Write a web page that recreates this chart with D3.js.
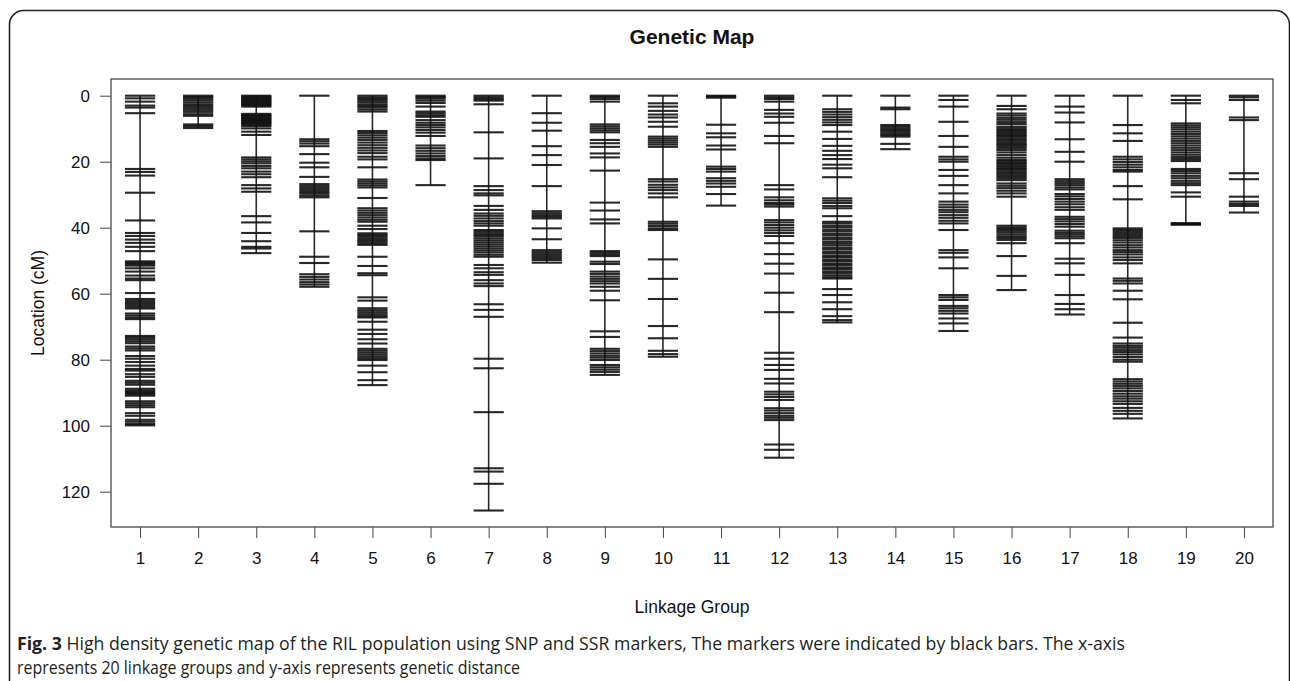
<!DOCTYPE html>
<html>
<head>
<meta charset="utf-8">
<script src="https://cdn.jsdelivr.net/npm/d3@7"></script>
<style>
  body { margin: 0; background: #fff; }
  svg text { font-family: "Liberation Sans", Arial, sans-serif; fill: #111; }
  .caption { font-family: "Open Sans", "Noto Sans", sans-serif; fill: #231f20; }
</style>
</head>
<body>
<div id="chart"></div>
<script>
// linkage group labels and y tick values
var groupLabels = ["1","2","3","4","5","6","7","8","9","10","11","12","13","14","15","16","17","18","19","20"];
var yTicks = [0, 20, 40, 60, 80, 100, 120];

// marker positions (cM) for each linkage group
var lg1 = [0, 0.8, 1.8, 3.0, 3.6, 5.3, 22.2, 23.1, 24.2, 29.4, 37.8, 41.6, 42.5, 43.6, 44.6, 45.8, 47.1,
  50.2, 50.6, 51.0, 51.5, 52.3, 53.3, 54.5, 55.4, 55.9, 59.8, 61.6, 62.2, 62.8, 63.4, 64.0, 64.5, 66.0, 66.6, 67.2, 67.7,
  72.8, 73.3, 73.8, 74.4, 75.0, 76.0, 76.6, 77.2, 78.9, 79.7, 80.7, 81.8, 82.8, 83.3, 84.4, 85.2, 86.4, 87.0, 87.6,
  88.8, 89.3, 89.7, 90.1, 90.5, 90.9, 92.6, 93.2, 93.8, 94.4, 96.2, 97.0, 98.2, 98.8, 99.5, 99.9];
var lg2 = [0, 0.4, 0.9, 1.4, 2.0, 2.6, 3.1, 3.7, 4.3, 4.9, 5.6, 6.1, 8.7, 9.2, 9.8];
var lg3 = [0, 0.3, 0.6, 0.9, 1.2, 1.5, 1.8, 2.1, 2.4, 2.7, 3.0, 3.3, 5.5, 5.8, 6.1, 6.4, 6.7, 7.0, 7.3, 7.6, 7.9,
  8.2, 8.5, 8.8, 9.2, 9.9, 10.9, 11.9, 18.7, 19.3, 19.9, 20.5, 21.3, 22.0, 23.0, 23.8, 24.7, 27.1, 28.1, 29.1,
  36.5, 38.4, 41.6, 44.1, 45.8, 46.3, 47.7];
var lg4 = [0, 13.2, 13.8, 14.5, 15.3, 17.7, 20.3, 21.7, 24.6, 26.8, 27.4, 28.0, 28.6, 29.2, 29.7, 30.3, 30.8,
  41.1, 48.8, 50.7, 54.1, 54.9, 55.7, 56.5, 57.2, 57.9];
var lg5 = [0, 0.5, 1.0, 1.5, 2.0, 2.6, 3.1, 3.6, 4.2, 4.8, 10.7, 11.3, 12.0, 12.7, 13.4, 14.2, 15.0, 15.8, 16.6,
  17.4, 18.5, 19.3, 21.7, 25.4, 26.0, 26.6, 27.2, 27.8, 31.0, 34.1, 34.8, 35.5, 36.2, 36.9, 37.6, 38.2, 39.4, 40.4,
  41.7, 42.2, 42.7, 43.2, 43.7, 44.2, 44.7, 45.2, 48.8, 51.6, 53.8, 54.4, 61.1, 62.1, 64.4, 65.0, 65.6, 66.2, 66.8,
  67.2, 68.5, 70.9, 72.2, 73.8, 75.1, 76.7, 77.3, 77.9, 78.5, 79.1, 79.6, 80.1, 81.8, 83.8, 86.2, 87.7];
var lg6 = [0, 0.4, 0.9, 1.5, 2.2, 3.3, 4.8, 5.3, 5.9, 6.4, 7.4, 8.2, 8.9, 9.6, 10.4, 11.2, 12.2,
  15.1, 15.9, 16.7, 17.5, 18.3, 19.0, 19.5, 27.1];
var lg7 = [0, 0.5, 1.0, 1.5, 2.6, 11.1, 19.0, 27.4, 28.6, 29.6, 30.2, 33.4, 34.6, 35.7, 36.4, 37.2, 38.0, 38.7,
  39.4, 40.7, 41.2, 41.7, 42.2, 42.7, 43.3, 43.9, 44.5, 45.1, 45.7, 46.3, 46.9, 47.5, 48.2, 48.8, 51.3, 52.3,
  53.5, 54.3, 55.9, 56.9, 57.7, 63.2, 64.9, 67.0, 79.7, 82.6, 95.9, 112.9, 113.9, 117.6, 125.7];
var lg8 = [0, 5.3, 8.2, 10.6, 15.3, 18.0, 21.0, 27.4, 35.0, 35.6, 36.2, 36.7, 37.2, 40.2, 43.5,
  46.8, 47.4, 48.0, 48.6, 49.2, 49.8, 50.6];
var lg9 = [0, 0.4, 1.0, 1.8, 8.7, 9.3, 9.9, 10.5, 11.1, 13.4, 14.4, 15.5, 17.5, 18.7, 22.7, 32.4, 34.8, 37.5,
  38.7, 47.1, 47.6, 48.1, 48.6, 50.3, 51.0, 53.3, 54.0, 54.8, 55.5, 56.2, 56.9, 57.9, 59.1, 62.0, 71.4, 73.1,
  76.7, 77.4, 78.1, 78.8, 79.4, 80.1, 81.6, 82.3, 83.0, 83.7, 84.6];
var lg10 = [0, 2.3, 3.3, 4.6, 5.7, 6.6, 7.9, 9.4, 12.4, 13.0, 13.6, 14.2, 14.8, 15.5, 25.3, 26.0, 27.0, 27.8,
  28.6, 29.6, 30.8, 38.2, 38.8, 39.5, 40.2, 40.7, 49.6, 55.5, 61.6, 69.8, 73.5, 77.3, 78.3, 79.1];
var lg11 = [0, 0.3, 0.6, 8.8, 11.4, 12.6, 15.1, 16.3, 21.5, 22.2, 23.0, 25.0, 25.8, 26.6, 27.6, 29.8, 33.3];
var lg12 = [0, 0.5, 1.0, 1.8, 4.3, 5.4, 6.4, 8.2, 12.2, 14.4, 27.1, 28.4, 30.8, 31.7, 32.5, 33.0, 33.6, 37.7,
  38.4, 39.2, 40.0, 40.8, 41.6, 42.5, 44.7, 48.0, 50.9, 53.9, 59.7, 65.6, 77.9, 79.7, 81.6, 83.1, 85.8, 87.2,
  89.7, 90.5, 91.3, 92.2, 94.7, 95.4, 96.2, 97.0, 97.6, 98.3, 105.7, 107.3, 109.7];
var lg13 = [0, 4.1, 4.9, 5.7, 6.5, 7.3, 8.1, 8.9, 10.9, 13.1, 15.2, 16.7, 18.0, 19.2, 20.9, 22.0, 24.7, 31.1,
  31.8, 32.5, 33.4, 34.1, 36.5, 38.2, 38.7, 39.4, 39.9, 40.6, 41.1, 41.8, 42.3, 43.0, 43.5, 44.2, 44.7, 45.3,
  46.0, 46.5, 47.2, 47.7, 48.4, 48.9, 49.6, 50.1, 50.8, 51.3, 52.0, 52.5, 53.2, 53.7, 54.4, 55.0, 55.4,
  58.6, 60.4, 62.6, 64.7, 66.8, 68.0, 68.7];
var lg14 = [0, 3.6, 4.1, 8.9, 9.4, 9.9, 10.4, 10.9, 11.4, 11.9, 12.4, 14.6, 16.2];
var lg15 = [0, 1.3, 3.3, 7.9, 12.2, 15.5, 18.5, 19.3, 20.0, 22.5, 24.3, 27.1, 29.6, 32.1, 33.0, 33.8, 34.6, 35.3,
  36.2, 37.0, 37.9, 38.7, 40.7, 46.8, 47.6, 49.0, 52.3, 60.4, 61.1, 61.9, 63.7, 64.4, 65.2, 66.0, 67.5, 69.0, 71.3];
var lg16 = [0, 3.1, 4.1, 5.4, 6.0, 6.7, 7.3, 8.0, 8.6, 9.4, 9.9, 10.4, 10.8, 11.3, 11.8, 12.2, 12.7, 13.2, 13.6,
  14.1, 14.6, 15.0, 15.5, 16.0, 16.5, 17.2, 18.0, 18.8, 19.5, 19.9, 20.4, 20.8, 21.3, 21.8, 22.2, 22.7, 23.2,
  23.6, 24.1, 24.6, 25.1, 25.6, 26.6, 27.3, 28.0, 28.8, 29.6, 30.6, 39.4, 39.9, 40.4, 40.9, 41.4, 42.0, 42.6,
  43.1, 43.7, 44.7, 48.6, 54.6, 58.9];
var lg17 = [0, 3.3, 5.1, 8.1, 13.2, 17.0, 20.0, 25.3, 25.9, 26.5, 27.1, 27.8, 28.4, 29.8, 30.5, 31.3, 32.1, 32.9,
  33.8, 34.6, 36.7, 37.4, 38.1, 38.9, 39.7, 40.9, 41.5, 42.0, 42.6, 43.2, 44.7, 49.4, 50.8, 54.3, 60.4, 63.1,
  64.7, 66.3];
var lg18 = [0, 8.9, 11.4, 13.7, 18.5, 19.3, 20.1, 20.9, 21.7, 22.5, 23.0, 27.4, 31.4, 40.2, 40.7, 41.3, 41.9,
  42.5, 43.1, 43.8, 44.5, 45.3, 46.0, 46.8, 47.4, 48.1, 49.0, 49.8, 50.8, 55.4, 56.1, 56.9, 59.1, 61.7, 68.8,
  73.3, 75.1, 75.8, 76.4, 77.1, 77.7, 78.4, 79.2, 80.0, 80.6, 85.9, 86.6, 87.3, 88.0, 88.7, 89.5, 90.3, 91.1,
  91.8, 92.6, 93.4, 94.6, 95.5, 96.4, 97.8];
var lg19 = [0, 1.3, 2.3, 8.4, 9.0, 9.6, 10.2, 10.9, 11.6, 12.3, 13.0, 13.7, 14.4, 15.1, 15.8, 16.5, 17.2, 17.9,
  18.6, 19.2, 19.8, 22.2, 22.8, 23.5, 24.3, 25.0, 25.8, 26.5, 27.1, 29.3, 30.6, 38.6, 38.9, 39.1];
var lg20 = [0, 0.5, 1.3, 6.6, 7.4, 23.5, 25.3, 30.6, 32.1, 32.8, 33.4, 35.4];

var groups = [lg1, lg2, lg3, lg4, lg5, lg6, lg7, lg8, lg9, lg10,
              lg11, lg12, lg13, lg14, lg15, lg16, lg17, lg18, lg19, lg20];

function init() {
  var w = 1290, h = 681;

  // plot box edges
  var left = 111, right = 1273, top = 79, bottom = 527;

  var svg = d3.select("#chart").append("svg")
    .attr("width", w)
    .attr("height", h);

  // rounded frame around the figure
  svg.append("rect")
    .attr("x", 9.5).attr("y", 10.5)
    .attr("width", 1280).attr("height", 720)
    .attr("rx", 14)
    .attr("fill", "none")
    .attr("stroke", "#222")
    .attr("stroke-width", 1.6);

  var xScale = d3.scaleLinear().domain([0.5, 20.5]).range([left, right]);
  var yScale = d3.scaleLinear().domain([0, 120]).range([95.7, 491.7]);

  // title
  svg.append("text")
    .attr("x", (left + right) / 2).attr("y", 44)
    .attr("text-anchor", "middle")
    .style("font-size", "21px").style("font-weight", "bold")
    .text("Genetic Map");

  // y axis
  var yAxis = d3.axisLeft(yScale).tickValues(yTicks).tickSize(11).tickPadding(10);
  var gy = svg.append("g").attr("transform", "translate(" + left + ",0)").call(yAxis);
  gy.select(".domain").remove();
  gy.selectAll("line").attr("stroke", "#444");
  gy.selectAll("text").style("font-size", "17px").attr("fill", "#111")
    .style("font-family", "'Liberation Sans', Arial, sans-serif");

  // x axis
  var xAxis = d3.axisBottom(xScale).tickValues(d3.range(1, 21)).tickSize(11).tickPadding(14)
    .tickFormat(function(d) { return groupLabels[d - 1]; });
  var gx = svg.append("g").attr("transform", "translate(0," + bottom + ")").call(xAxis);
  gx.select(".domain").remove();
  gx.selectAll("line").attr("stroke", "#444");
  gx.selectAll("text").style("font-size", "17px").attr("fill", "#111")
    .style("font-family", "'Liberation Sans', Arial, sans-serif");

  // plot box
  svg.append("rect")
    .attr("x", left).attr("y", top)
    .attr("width", right - left).attr("height", bottom - top)
    .attr("fill", "none")
    .attr("stroke", "#555")
    .attr("stroke-width", 1.4);

  // axis titles
  svg.append("text")
    .attr("transform", "translate(44," + ((top + bottom) / 2) + ") rotate(-90)")
    .attr("text-anchor", "middle")
    .style("font-size", "17.5px")
    .text("Location (cM)");

  svg.append("text")
    .attr("x", (left + right) / 2).attr("y", 613)
    .attr("text-anchor", "middle")
    .style("font-size", "17.5px")
    .text("Linkage Group");

  // chromosome backbones
  var halfW = 0.26;
  var lg = svg.selectAll("g.lg")
    .data(groups)
    .enter()
    .append("g")
    .attr("class", "lg");

  lg.append("line")
    .attr("x1", function(d, i) { return xScale(i + 1); })
    .attr("x2", function(d, i) { return xScale(i + 1); })
    .attr("y1", function(d) { return yScale(d3.min(d)); })
    .attr("y2", function(d) { return yScale(d3.max(d)); })
    .attr("stroke", "#2a2a2a")
    .attr("stroke-width", 1.6);

  // marker bars
  lg.each(function(d, i) {
    d3.select(this).selectAll("line.mk")
      .data(d)
      .enter()
      .append("line")
      .attr("class", "mk")
      .attr("x1", xScale(i + 1 - halfW))
      .attr("x2", xScale(i + 1 + halfW))
      .attr("y1", function(v) { return yScale(v); })
      .attr("y2", function(v) { return yScale(v); })
      .attr("stroke", "#111")
      .attr("stroke-opacity", 0.9)
      .attr("stroke-width", 2.1);
  });

  // caption
  var cap1 = svg.append("text").attr("class", "caption")
    .attr("x", 17).attr("y", 650)
    .style("font-size", "18.5px")
    .attr("textLength", 1108).attr("lengthAdjust", "spacingAndGlyphs");
  cap1.append("tspan").style("font-weight", "bold").text("Fig. 3");
  cap1.append("tspan").text(" High density genetic map of the RIL population using SNP and SSR markers, The markers were indicated by black bars. The x-axis");

  svg.append("text").attr("class", "caption")
    .attr("x", 17).attr("y", 674)
    .style("font-size", "18.5px")
    .attr("textLength", 503).attr("lengthAdjust", "spacingAndGlyphs")
    .text("represents 20 linkage groups and y-axis represents genetic distance");
}

window.onload = init;
</script>
</body>
</html>
